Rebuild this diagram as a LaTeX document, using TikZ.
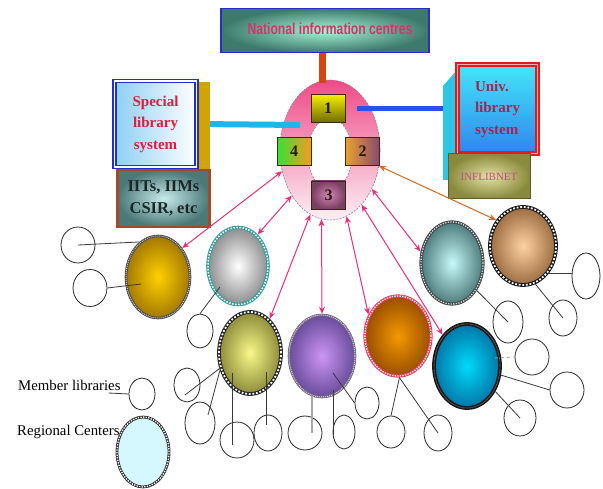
\documentclass[tikz,border=0pt]{standalone}
\usepackage{fontspec}
\setmainfont{Liberation Serif}
\newfontfamily\headfont{Liberation Sans}
\usepackage{graphicx}
\usetikzlibrary{shapes.geometric,arrows.meta,calc}

% drawing layers: ring below its feed lines, feed lines below the numbered boxes
\pgfdeclarelayer{back}
\pgfdeclarelayer{mid}
\pgfsetlayers{back,mid,main}

% palette
\definecolor{titleblue}{HTML}{2C2CC4}
\definecolor{titlein}{HTML}{A8F6D8}
\definecolor{titleout}{HTML}{3E7A6C}
\definecolor{titletext}{HTML}{D8326A}
\definecolor{barred}{HTML}{D44612}
\definecolor{ringtop}{HTML}{EE4A86}
\definecolor{ringmid}{HTML}{F7A8C6}
\definecolor{ringbot}{HTML}{FDF0F6}
\definecolor{ringedge}{HTML}{9A7890}
\definecolor{cyanbar}{HTML}{1FB6EE}
\definecolor{bluebar}{HTML}{2A52E6}
\definecolor{specblue}{HTML}{2030D0}
\definecolor{specfill}{HTML}{8ECFF4}
\definecolor{specred}{HTML}{E01C3C}
\definecolor{goldbar}{HTML}{D2A400}
\definecolor{iitedge}{HTML}{A44A26}
\definecolor{iitin}{HTML}{C8ECEC}
\definecolor{iitout}{HTML}{4C7878}
\definecolor{iittext}{HTML}{1C2828}
\definecolor{univred}{HTML}{E01C1C}
\definecolor{univgap}{HTML}{F6B0B0}
\definecolor{univtop}{HTML}{44E6F8}
\definecolor{univbot}{HTML}{2F86EE}
\definecolor{univtext}{HTML}{A02850}
\definecolor{univside}{HTML}{2CC6E6}
\definecolor{infin}{HTML}{E2E2A4}
\definecolor{infout}{HTML}{8A8A3E}
\definecolor{infedge}{HTML}{5E5E22}
\definecolor{inftext}{HTML}{C44A7C}
\definecolor{arrowpink}{HTML}{E8307A}
\definecolor{arrowbrown}{HTML}{D2691E}
\definecolor{linkgray}{HTML}{3A3A3A}
\definecolor{lightlink}{HTML}{A8A8A8}
\definecolor{numedge}{HTML}{3A2A10}
\definecolor{numtext}{HTML}{241808}
\definecolor{bonetop}{HTML}{F4F000}
\definecolor{bonebot}{HTML}{6E6A00}
\definecolor{bfourl}{HTML}{36E036}
\definecolor{bfourr}{HTML}{F79A20}
\definecolor{btwol}{HTML}{E8A030}
\definecolor{btwor}{HTML}{8A4870}
\definecolor{bthreein}{HTML}{D086B4}
\definecolor{bthreeout}{HTML}{7A4060}
\definecolor{goldin}{HTML}{FFD200}
\definecolor{goldout}{HTML}{A47800}
\definecolor{goldedge}{HTML}{4A4A4A}
\definecolor{silvout}{HTML}{8E8E8E}
\definecolor{silvedge}{HTML}{3A9E9E}
\definecolor{yelin}{HTML}{F8F88A}
\definecolor{yelout}{HTML}{8C8C3A}
\definecolor{purin}{HTML}{CC96F4}
\definecolor{purout}{HTML}{6A4C9C}
\definecolor{puredge}{HTML}{6A6A88}
\definecolor{orain}{HTML}{F29A00}
\definecolor{oraout}{HTML}{9A4E00}
\definecolor{oraedge}{HTML}{E63C5C}
\definecolor{cyanin}{HTML}{00DAFA}
\definecolor{cyanout}{HTML}{0076A8}
\definecolor{tealin}{HTML}{C6FAFA}
\definecolor{tealout}{HTML}{4E7C7C}
\definecolor{tealedge}{HTML}{404848}
\definecolor{peachin}{HTML}{FFD2A2}
\definecolor{peachout}{HTML}{9C6C42}
\definecolor{legendfill}{HTML}{D4F8FE}

\begin{document}
\begin{tikzpicture}[x=1pt,y=-1pt,
  numbox/.style={draw=numedge, line width=0.9pt, minimum width=34pt, minimum height=28pt,
    inner sep=0pt, font=\fontsize{16}{16}\selectfont\bfseries, text=numtext},
  region/.style={ellipse, inner sep=0pt},
  member/.style={ellipse, draw=black!85, line width=0.8pt, inner sep=0pt},
  link/.style={draw=linkgray, line width=0.8pt},
  twoway/.style={draw=arrowpink, line width=1pt,
    {Stealth[length=7pt,width=6pt]}-{Stealth[length=7pt,width=6pt]}},
  beads/.style 2 args={postaction={draw=#1, line width=#2, dash pattern=on #2 off #2}},
]
\begin{pgfonlayer}{back}
\fill[white] (0,0) rectangle (603,489);
\end{pgfonlayer}
\useasboundingbox (0,0) rectangle (603,489);

% ---- top: national centre and the central ring ----
\node[draw=titleblue, line width=1.2pt, inner color=titlein, outer color=titleout,
  minimum width=208pt, minimum height=44pt, inner sep=0pt] (title) at (325,30.5)
  {\hspace*{10pt}\raisebox{3pt}{\headfont\bfseries\fontsize{16}{16}\selectfont\color{titletext}\scalebox{0.76}[1]{National information centres}}};

\begin{pgfonlayer}{back}
\node[region, draw=ringedge, line width=0.6pt, dash pattern=on 2pt off 1.2pt,
  top color=ringtop, middle color=ringmid, bottom color=ringbot,
  minimum width=100pt, minimum height=140pt] (ring) at (330,150) {};
\node[region, fill=white, draw=ringedge, line width=0.6pt, dash pattern=on 2pt off 1.2pt,
  minimum width=44pt, minimum height=72pt] (hole) at (330,154) {};
\end{pgfonlayer}

\draw[barred, line width=7.5pt] ([xshift=-2.5pt]title.south) -- ([xshift=-2.5pt,yshift=-3pt]title.south |- ring.north);

% ---- special library system (left) ----
\fill[goldbar] (197,82) rectangle (210,170);
\node[draw=specblue, double=white, double distance=1.8pt, line width=1.4pt,
  left color=specfill, right color=white, minimum width=82pt, minimum height=86pt,
  inner sep=0pt, align=center, font=\fontsize{15}{21.5}\selectfont\bfseries, text=specred]
  (spec) at (155.5,124) {Special\\library\\system};
\node[draw=iitedge, line width=2.8pt, inner color=iitin, outer color=iitout,
  minimum width=92pt, minimum height=57pt, inner sep=0pt, align=center,
  font=\fontsize{16.5}{22}\selectfont\bfseries, text=iittext]
  (iit) at (163.5,198.5) {IITs, IIMs\\CSIR, etc};

% ---- university library system (right) ----
\fill[univside] (443,86) -- (457,70) -- (457,180) -- (443,180) -- cycle;
\node[draw=univred, double=univgap, double distance=1.8pt, line width=1.5pt,
  top color=univtop, bottom color=univbot, minimum width=80pt, minimum height=89pt,
  inner sep=0pt, align=left, font=\fontsize{15}{21.5}\selectfont\bfseries, text=univtext]
  (univ) at (497.5,109) {Univ.\\library\\system};
\node[draw=infedge, line width=1pt, inner color=infin, outer color=infout,
  minimum width=82pt, minimum height=45pt, inner sep=0pt,
  font=\fontsize{11}{11}\selectfont, text=inftext] (inf) at (489,176.5) {INFLIBNET};

% ---- ring members ----
\node[numbox, top color=bonetop, bottom color=bonebot] (b1) at (328,108.5) {1};
\node[numbox, left color=bfourl, right color=bfourr] (b4) at (294,151.5) {4};
\node[numbox, left color=btwol, right color=btwor] (b2) at (362.5,151.5) {2};
\node[numbox, inner color=bthreein, outer color=bthreeout] (b3) at (328.5,195) {3};

% ---- feeds into the ring ----
\begin{pgfonlayer}{mid}
\draw[bluebar, line width=5pt, shorten <=12pt] (b1.east) -- (b1.east -| univ.west);
\draw[cyanbar, line width=6pt, shorten <=13pt] (spec.east) -- ($(ring.center)+(-30,-25)$);
\end{pgfonlayer}

% ---- regional centres ----
\node[region, minimum width=64pt, minimum height=82pt, inner color=goldin, outer color=goldout,
  draw=goldedge, line width=2.6pt, beads={gray!45}{1pt}] (gold) at (158,277) {};
\node[region, minimum width=60pt, minimum height=77pt, inner color=white, outer color=silvout,
  draw=silvedge, line width=3.6pt, beads={white}{1.5pt}] (silv) at (238,266) {};
\node[region, minimum width=62pt, minimum height=82pt, inner color=yelin, outer color=yelout,
  draw=black!85, line width=3.8pt, beads={white}{1.8pt}] (yel) at (250,353) {};
\node[region, minimum width=66pt, minimum height=82pt, inner color=purin, outer color=purout,
  draw=puredge, line width=2.6pt, beads={white!75!purple}{1pt}] (pur) at (322,356) {};
\node[region, minimum width=66pt, minimum height=80pt, inner color=orain, outer color=oraout,
  draw=oraedge, line width=3.2pt, beads={white}{1.3pt}] (ora) at (398,336) {};
\node[region, minimum width=66pt, minimum height=84pt, inner color=cyanin, outer color=cyanout,
  draw=black!90, line width=3.8pt, beads={gray}{0.6pt}] (cyan) at (467,366) {};
\node[region, minimum width=62pt, minimum height=82pt, inner color=tealin, outer color=tealout,
  draw=tealedge, line width=3.2pt, beads={white!85!black}{1.3pt}] (teal) at (452,263) {};
\node[region, minimum width=66pt, minimum height=78pt, inner color=peachin, outer color=peachout,
  draw=black!90, line width=3.8pt, beads={white}{1.8pt}] (peach) at (523,246) {};

% ---- two-way links between the ring and the regional centres ----
\draw[twoway] (ring.204) -- (gold.50);
\draw[twoway] (ring.230) -- (silv.58);
\draw[twoway] (ring.253) -- (yel.60);
\draw[twoway] (ring.263) -- (pur.90);
\draw[twoway] (ring.284) -- (ora.144);
\draw[twoway] (ring.300) -- (cyan.128);
\draw[twoway] (ring.317) -- (teal.160);
\draw[twoway, draw=arrowbrown] (ring.342) -- (peach.136);

% ---- member libraries ----
\node[member, minimum width=34pt, minimum height=36pt] (m1) at (78,245) {};
\node[member, minimum width=34pt, minimum height=37pt] (m2) at (90,288) {};
\node[member, minimum width=26pt, minimum height=34pt] (m3) at (200,331) {};
\node[member, minimum width=26pt, minimum height=34pt] (m4) at (187,385) {};
\node[member, minimum width=30pt, minimum height=42pt] (m5) at (200,423) {};
\node[member, minimum width=34pt, minimum height=36pt] (m6) at (237,440) {};
\node[member, minimum width=28pt, minimum height=36pt] (m7) at (268,433) {};
\node[member, minimum width=34pt, minimum height=34pt] (m8) at (305,433) {};
\node[member, minimum width=22pt, minimum height=34pt] (m9) at (344,432) {};
\node[member, minimum width=24pt, minimum height=32pt] (m10) at (367,403) {};
\node[member, minimum width=28pt, minimum height=32pt] (m11) at (391,432) {};
\node[member, minimum width=28pt, minimum height=36pt] (m12) at (438,433) {};
\node[member, minimum width=32pt, minimum height=36pt] (m13) at (520,418) {};
\node[member, minimum width=34pt, minimum height=36pt] (m14) at (567,390) {};
\node[member, minimum width=34pt, minimum height=36pt] (m15) at (532,357) {};
\node[member, minimum width=30pt, minimum height=42pt] (m16) at (508,322) {};
\node[member, minimum width=28pt, minimum height=46pt] (m17) at (586,276) {};
\node[member, minimum width=28pt, minimum height=36pt] (m18) at (563,318) {};

\draw[link] (m1.center) -- (gold.118);
\draw[link] (m2.east) -- ($(gold.center)+(-17,7)$);
\draw[link] ($(silv.center)+(-18,21)$) -- (m3.north);
\draw[link] (yel.207) -- ($(m4.center)+(-2,10)$);
\draw[link] (yel.210) -- ($(m5.center)+(8,-8)$);
\draw[link] ($(yel.center)+(-18,20)$) -- ($(yel.center |- m6.center)+(-18,5)$);
\draw[link] ($(yel.center)+(16,19)$) -- ($(yel.center |- m7.center)+(16,-8)$);
\draw[link, draw=lightlink, line width=2pt] (pur.256) -- (pur.256 |- m8.center);
\draw[link] ($(pur.center)+(11,34)$) -- ($(pur.center |- m9.center)+(11,3)$);
\draw[link] ($(pur.center)+(11,17)$) -- (m10.west);
\draw[link] (ora.272) -- (m11.north);
\draw[link] (ora.272) -- (m12.center);
\draw[link] (cyan.318) -- (m13.center);
\draw[link] (cyan.345) -- (m14.west);
\draw[link, draw=lightlink, dashed] ($(cyan.center)+(28,-8)$) -- (m15.west);
\draw[link] (teal.312) -- (m16.center);
\draw[link] (peach.314) -- (peach.314 -| m17.west);
\draw[link] (peach.288) -- (m18.center);

% ---- legend ----
\node[anchor=base west, font=\fontsize{14.8}{14.8}\selectfont, inner sep=0pt] (memtxt) at (18,390) {Member libraries};
\node[member, minimum width=26pt, minimum height=32pt] (lm) at (142,394) {};
\draw[link] ([xshift=-12pt,yshift=-3pt]memtxt.base east) -- (lm.west);
\node[region, minimum width=52pt, minimum height=70pt, fill=legendfill,
  draw=black!80, line width=2.8pt, beads={white}{1.3pt}] (lrc) at (143,452) {};
\node[anchor=base west, font=\fontsize{14.8}{14.8}\selectfont, inner sep=0pt] (regtxt) at (17,435) {Regional Centers};
\end{tikzpicture}
\end{document}
